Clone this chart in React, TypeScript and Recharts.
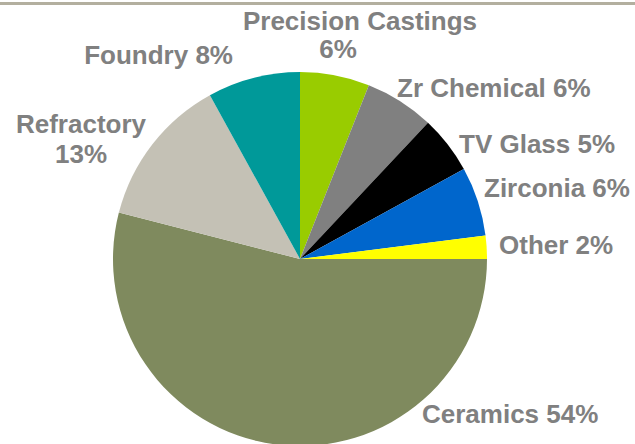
import { PieChart, Pie, Cell } from "recharts";

const segments = ["Precision Castings", "Zr Chemical", "TV Glass", "Zirconia", "Other", "Ceramics", "Refractory", "Foundry"];
const shares = [6, 6, 5, 6, 2, 54, 13, 8];
const sliceColors = ["#99cc00", "#808080", "#000000", "#0066cc", "#ffff00", "#7f8a5e", "#c4c1b5", "#009999"];

// label placement, relative to pie centre (Excel labels were dragged by hand)
const labelLayout = [
  { anchor: "middle", lines: [[60, -229], [38, -201]] },
  { anchor: "start", lines: [[97, -162]] },
  { anchor: "start", lines: [[159, -106]] },
  { anchor: "start", lines: [[184, -62]] },
  { anchor: "start", lines: [[199, -5]] },
  { anchor: "start", lines: [[122, 164]] },
  { anchor: "middle", lines: [[-219, -126], [-219, -96]] },
  { anchor: "end", lines: [[-67, -195]] },
];

const data = segments.map((name, i) => ({ name, value: shares[i] }));

const renderLabel = (props: any) => {
  const { cx, cy, index } = props;
  const layout = labelLayout[index];
  const name = segments[index];
  const pct = `${shares[index]}%`;
  const parts = layout.lines.length > 1 ? [name, pct] : [`${name} ${pct}`];
  return (
    <g key={`lbl-${index}`}>
      {parts.map((t, j) => (
        <text
          key={j}
          x={cx + layout.lines[j][0]}
          y={cy + layout.lines[j][1]}
          textAnchor={layout.anchor}
          fill="#808080"
          fontSize={26}
          fontWeight="bold"
          fontFamily="'Liberation Sans', Arial, sans-serif"
        >
          {t}
        </text>
      ))}
    </g>
  );
};

export default function App() {
  return (
    <div style={{ position: "absolute", left: 0, top: 0, width: 635, height: 444, background: "#fff", overflow: "hidden" }}>
      <div style={{ position: "absolute", left: 0, top: 2, width: 635, height: 3, background: "#b3af9f" }} />
      <PieChart width={635} height={444} margin={{ top: 0, right: 0, bottom: 0, left: 0 }}>
        <Pie
          data={data}
          dataKey="value"
          nameKey="name"
          cx={300}
          cy={259}
          outerRadius={187}
          startAngle={90}
          endAngle={-270}
          stroke="none"
          label={renderLabel}
          labelLine={false}
          isAnimationActive={false}
        >
          {data.map((d, i) => (
            <Cell key={d.name} fill={sliceColors[i]} />
          ))}
        </Pie>
      </PieChart>
    </div>
  );
}
